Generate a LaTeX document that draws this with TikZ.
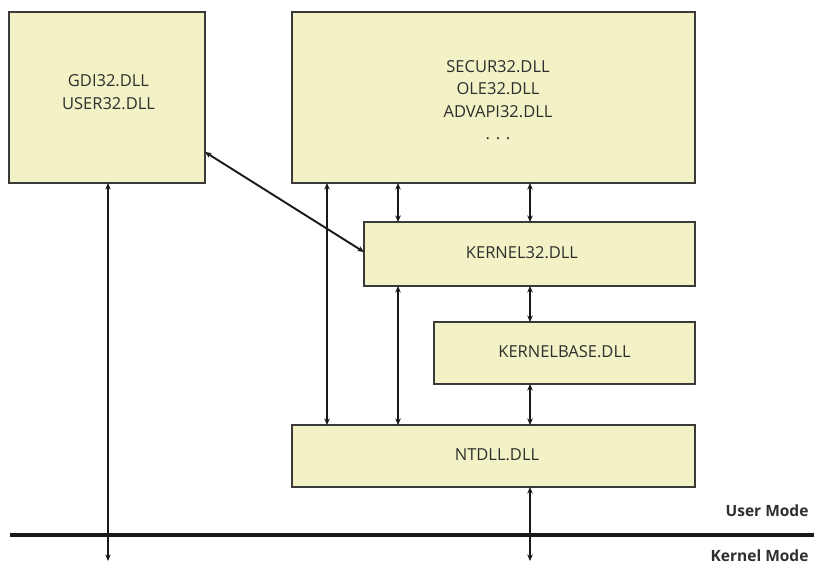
\documentclass[tikz,border=0pt]{standalone}
\usepackage{fontspec}
\setmainfont{Open Sans}
\usetikzlibrary{arrows.meta}
\definecolor{boxfill}{HTML}{F2F2C6}
\definecolor{boxline}{HTML}{3A3A3A}
\definecolor{txt}{HTML}{2E2E2E}
\begin{document}
\begin{tikzpicture}[x=1pt,y=-1pt,
  dll/.style={draw=boxline,line width=1.5pt,fill=boxfill,inner sep=0pt,outer sep=0pt},
  dlltxt/.style={inner sep=0pt,text=txt,font=\fontsize{16.5}{22.5}\selectfont,align=center},
  link/.style={line width=1.9pt,draw=black!90,{Stealth[length=6.5pt,width=5.5pt]}-{Stealth[length=6.5pt,width=5.5pt]}},
  modelbl/.style={font=\fontsize{15.5}{18}\selectfont\bfseries,text=txt,anchor=east}]
\useasboundingbox (0,0) rectangle (814,565);
% boxes
\node[dll,minimum width=196pt,minimum height=171pt] (gdi) at (107,97.5) {};
\node[dlltxt] (gditxt) at (108.5,92) {GDI32.DLL\\USER32.DLL};
\node[dll,minimum width=403pt,minimum height=171pt] (sec) at (493.5,97.5) {};
\node[dlltxt] (sectxt) at (498,100) {SECUR32.DLL\\OLE32.DLL\\ADVAPI32.DLL\\. . .};
\node[dll,minimum width=331pt,minimum height=64pt] (k32) at (529.5,254) {};
\node[dlltxt] (k32txt) at (522,253) {KERNEL32.DLL};
\node[dll,minimum width=261pt,minimum height=62pt] (kb) at (564.5,353) {};
\node[dlltxt] (kbtxt) at (564.5,352) {KERNELBASE.DLL};
\node[dll,minimum width=403pt,minimum height=62pt] (nt) at (493.5,456) {};
\node[dlltxt] (nttxt) at (497,455) {NTDLL.DLL};
% mode divider
\coordinate (lineL) at (10,535);
\coordinate (lineR) at (814,535);
\draw[line width=4pt,black!90] (lineL) -- (lineR);
\node[modelbl] (um) at (812,511) {User Mode};
\node[modelbl] (km) at (812,556) {Kernel Mode};
% free ends below
\coordinate (gdiend) at (108,561);
\coordinate (ntend) at (530,561);
% connectors
\draw[link] (gdi.south -| gdiend) -- (gdiend);
\draw[link] (gdi.east |- 0,152) -- (k32.west |- 0,252);
\draw[link] (sec.south -| 327,0) -- (nt.north -| 327,0);
\draw[link] (sec.south -| 398,0) -- (k32.north -| 398,0);
\draw[link] (sec.south -| 530,0) -- (k32.north -| 530,0);
\draw[link] (k32.south -| 398,0) -- (nt.north -| 398,0);
\draw[link] (k32.south -| 530,0) -- (kb.north -| 530,0);
\draw[link] (kb.south -| 530,0) -- (nt.north -| 530,0);
\draw[link] (nt.south -| ntend) -- (ntend);
\end{tikzpicture}
\end{document}
